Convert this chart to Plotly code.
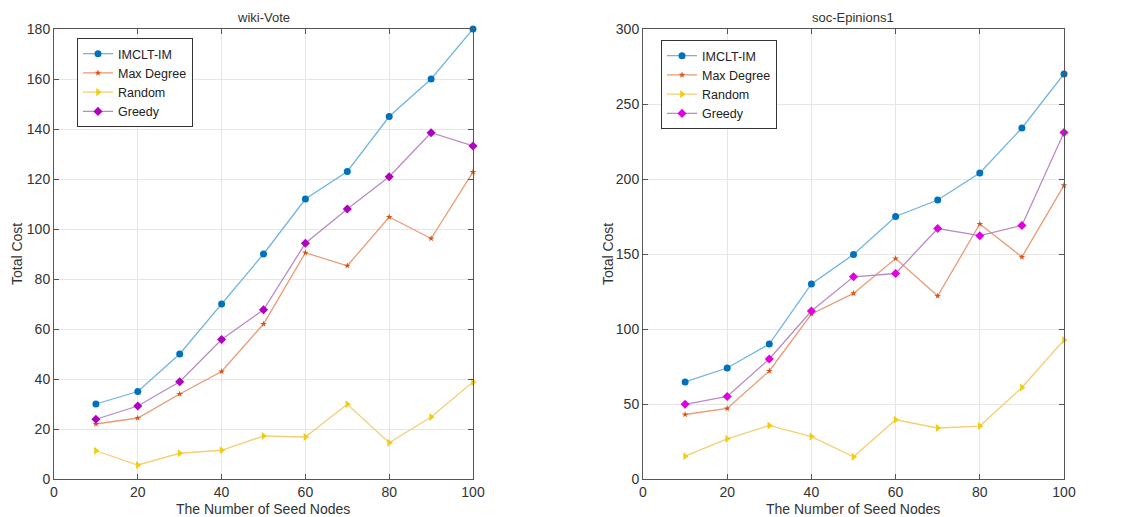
import plotly.graph_objects as go

seed_nodes = [10, 20, 30, 40, 50, 60, 70, 80, 90, 100]
series_names = ["IMCLT-IM", "Max Degree", "Random", "Greedy"]

wiki_imclt = [30, 35, 50, 70, 90, 112, 123, 145, 160, 180]
wiki_maxdeg = [22, 24.4, 34, 43, 62, 90.5, 85.3, 104.8, 96.2, 122.8]
wiki_random = [11.3, 5.6, 10.3, 11.5, 17.2, 16.8, 29.9, 14.5, 24.8, 38.8]
wiki_greedy = [23.9, 29.2, 38.9, 55.8, 67.7, 94.3, 108, 120.9, 138.5, 133.2]

epi_imclt = [64.7, 74, 90, 130, 149.7, 175, 186, 204, 234, 270]
epi_maxdeg = [43, 47, 72, 110, 123.7, 147, 122, 170, 148, 195.7]
epi_random = [15.2, 26.8, 35.7, 28.3, 14.8, 39.5, 34, 35.3, 61, 92.7]
epi_greedy = [49.8, 55, 80, 112, 134.8, 137, 167, 162.2, 169, 231]

line_colors = ["#72b4df", "#e99b74", "#f2cf72", "#b98bc4"]
marker_colors = ["#0072BD", "#D95319", "#F2CC10", "#B000C0"]
marker_colors_r = ["#0072BD", "#D95319", "#F2CC10", "#E000E0"]
symbols = ["circle", "star", "triangle-right", "diamond"]
sizes = [7, 5, 7, 7]

fig = go.Figure()

left_data = [wiki_imclt, wiki_maxdeg, wiki_random, wiki_greedy]
right_data = [epi_imclt, epi_maxdeg, epi_random, epi_greedy]

for i, name in enumerate(series_names):
    fig.add_trace(go.Scatter(
        x=seed_nodes, y=left_data[i], mode="lines+markers", name=name,
        line=dict(color=line_colors[i], width=1.3),
        marker=dict(symbol=symbols[i], color=marker_colors[i], size=sizes[i]),
        xaxis="x", yaxis="y", legend="legend", cliponaxis=False))
for i, name in enumerate(series_names):
    fig.add_trace(go.Scatter(
        x=seed_nodes, y=right_data[i], mode="lines+markers", name=name,
        line=dict(color=line_colors[i], width=1.3),
        marker=dict(symbol=symbols[i], color=marker_colors_r[i], size=sizes[i]),
        xaxis="x2", yaxis="y2", legend="legend2", cliponaxis=False))

# page has an 8px body margin; positions below are in page pixels
OFF = 8
W, H = 1122, 509
def px(v):
    return (v - OFF) / W
def py(v):
    return (H - (v - OFF)) / H

axis_common = dict(
    showline=True, linecolor="#555555", linewidth=1, mirror="ticks",
    ticks="inside", ticklen=5, tickcolor="#555555",
    showgrid=True, gridcolor="#e6e6e6", gridwidth=1, zeroline=False,
    automargin=False,
    tickfont=dict(family="Liberation Sans, Arial", size=14, color="#333333"),
)

txt = dict(family="Liberation Sans, Arial", size=14, color="#333333")

def ann(text, x, y, size=14, angle=0):
    return dict(text=text, x=px(x), y=py(y), xref="paper", yref="paper",
                xanchor="center", yanchor="middle", showarrow=False,
                textangle=angle,
                font=dict(family="Liberation Sans, Arial", size=size, color="#333333"))

fig.update_layout(
    width=W, height=H,
    margin=dict(l=0, r=0, t=0, b=0, autoexpand=False),
    paper_bgcolor="white", plot_bgcolor="white",
    font=dict(family="Liberation Sans, Arial", color="#333333"),
    xaxis=dict(domain=[px(54), px(473)], range=[0, 100], dtick=20,
               anchor="y", **axis_common),
    yaxis=dict(domain=[py(479), py(29)], range=[0, 180], dtick=20,
               anchor="x", **axis_common),
    xaxis2=dict(domain=[px(643), px(1064)], range=[0, 100], dtick=20,
                anchor="y2", **axis_common),
    yaxis2=dict(domain=[py(479), py(29)], range=[0, 300], dtick=50,
                anchor="x2", **axis_common),
    legend=dict(x=px(77), y=py(38), xanchor="left", yanchor="top",
                bordercolor="#333333", borderwidth=1, bgcolor="white",
                font=dict(size=12.5, color="#222222"), tracegroupgap=0,
                itemwidth=30),
    legend2=dict(x=px(661), y=py(40), xanchor="left", yanchor="top",
                 bordercolor="#333333", borderwidth=1, bgcolor="white",
                 font=dict(size=12.5, color="#222222"), tracegroupgap=0,
                 itemwidth=30),
    annotations=[
        ann("wiki-Vote", 263, 17, 13),
        ann("soc-Epinions1", 853, 17, 13),
        ann("The Number of Seed Nodes", 263, 509),
        ann("The Number of Seed Nodes", 853, 509),
        ann("Total Cost", 17, 254, angle=-90),
        ann("Total Cost", 608, 254, angle=-90),
    ],
)

fig.write_html("out.html")
